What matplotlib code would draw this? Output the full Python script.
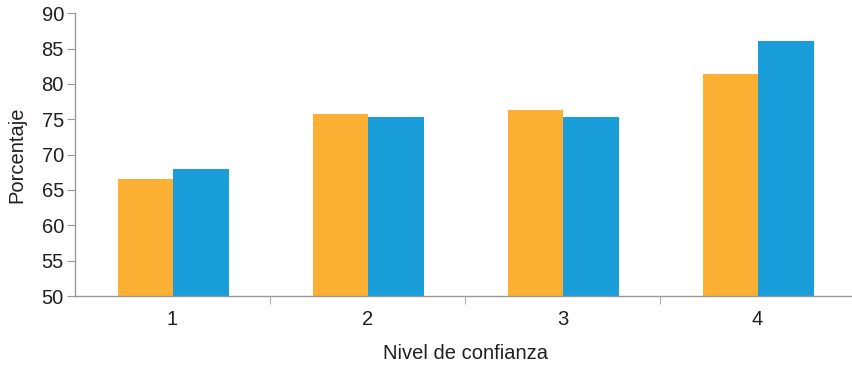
import matplotlib
matplotlib.use("Agg")
import matplotlib.pyplot as plt
import numpy as np

categories = ["1", "2", "3", "4"]
serie_a = [66.5, 75.7, 76.3, 81.4]
serie_b = [68.0, 75.3, 75.3, 86.1]
y_ticks = [50, 55, 60, 65, 70, 75, 80, 85, 90]

plt.rcParams["font.family"] = ["Liberation Sans", "DejaVu Sans"]

fig = plt.figure(figsize=(8.52, 3.68), dpi=100)
ax = fig.add_axes([75/852, 1-296/368, 780/852, (296-13.3)/368])

x = np.arange(1, len(categories) + 1)
w = 0.287
ax.bar(x - w/2 + 0.005, serie_a, width=w, color="#FBB034")
ax.bar(x + w/2 + 0.005, serie_b, width=w, color="#199ED9")

ax.set_xlim(0.5, 4.5)
ax.set_ylim(50, 90)
ax.set_yticks(y_ticks)
ax.set_xticks(x)
ax.set_xticklabels(categories)
ax.set_xticks([1.5, 2.5, 3.5], minor=True)

for s in ["top", "right"]:
    ax.spines[s].set_visible(False)
for s in ["left", "bottom"]:
    ax.spines[s].set_color("#9a9a9a")
    ax.spines[s].set_linewidth(1.0)

ax.tick_params(axis="y", length=6, color="#9a9a9a", labelsize=14.5, labelcolor="#231f20", pad=2)
ax.tick_params(axis="x", which="major", length=0, labelsize=14.5, labelcolor="#231f20", pad=10)
ax.tick_params(axis="x", which="minor", length=6, color="#9a9a9a", direction="out")

ax.set_ylabel("Porcentaje", fontsize=14.5, color="#231f20", labelpad=11)
ax.set_xlabel("Nivel de confianza", fontsize=14.5, color="#231f20", labelpad=11)

fig.savefig("out.png", dpi=100)
